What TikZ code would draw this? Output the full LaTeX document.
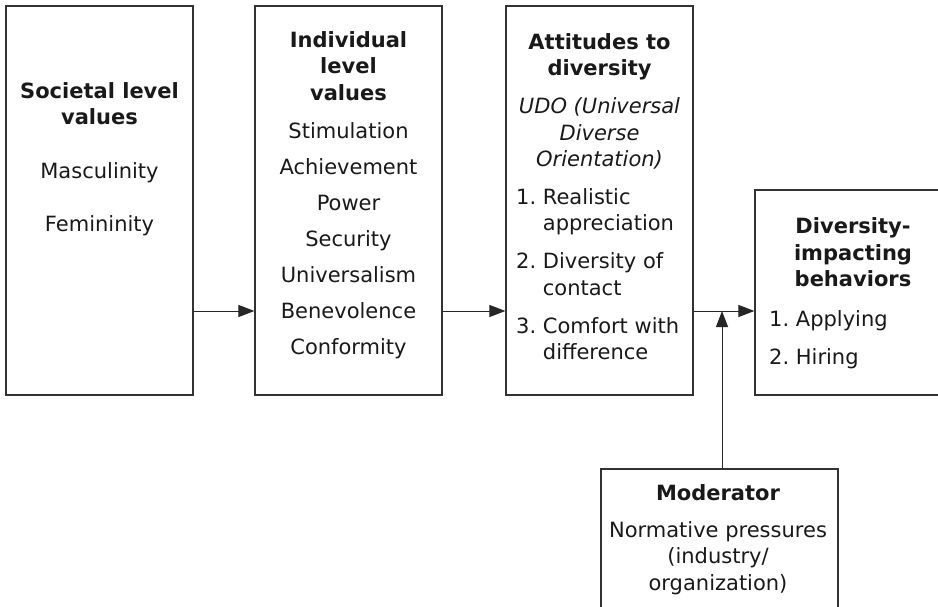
\documentclass[tikz,border=0pt]{standalone}
\usepackage{fontspec}
\setmainfont{DejaVu Sans}
\usetikzlibrary{arrows.meta}

\tikzset{
  box/.style={draw=black!80, line width=1.2pt, inner sep=0pt},
  txt/.style={anchor=north, inner sep=0pt, align=center, text=black!90},
  lst/.style={anchor=north west, inner sep=0pt, align=left, text=black!90},
  arr/.style={black!85, line width=1pt, -{Triangle[length=16pt,width=12pt]}}
}

\begin{document}
\begin{tikzpicture}[x=1pt, y=-1pt, font=\fontsize{21}{26.5}\selectfont]

    \useasboundingbox (0,0) rectangle (938,607);

    % draw boxes
    \node[box, minimum width=187pt, minimum height=389pt] (soc) at (99.5,200.5) {};
    \node[box, minimum width=187pt, minimum height=389pt] (ind) at (348.5,200.5) {};
    \node[box, minimum width=187pt, minimum height=389pt] (att) at (599.5,200.5) {};
    \node[box, minimum width=195pt, minimum height=205pt] (beh) at (852.5,292.5) {};
    \node[box, minimum width=237pt, minimum height=171pt] (mod) at (719.5,554.5) {};

    % add labels
    \node[txt] (soctxt) at (99.5,82) {\textbf{Societal level}\\\textbf{values}\\[27.5pt]Masculinity\\[26.5pt]Femininity};
    \node[txt] (indtxt) at (348.5,31) {\textbf{Individual}\\\textbf{level}\\\textbf{values}\\[11.5pt]Stimulation\\[9.5pt]Achievement\\[9.5pt]Power\\[9.5pt]Security\\[9.5pt]Universalism\\[9.5pt]Benevolence\\[9.5pt]Conformity};
    \node[txt] (atttxt) at (599.5,33) {\textbf{Attitudes to}\\\textbf{diversity}\\[11.5pt]\textit{UDO (Universal}\\\textit{Diverse}\\\textit{Orientation)}};
    \node[lst] (attlst) at (516,188) {1.\ Realistic\\\hphantom{1.\ }appreciation\\[11.5pt]2.\ Diversity of\\\hphantom{2.\ }contact\\[11.5pt]3.\ Comfort with\\\hphantom{3.\ }difference};
    \node[txt] (behtxt) at (853,217.5) {\textbf{Diversity-}\\\textbf{impacting}\\\textbf{behaviors}};
    \node[lst] (behlst) at (769,310) {1.\ Applying\\[11.5pt]2.\ Hiring};
    \node[txt] (modtxt) at (718,484) {\textbf{Moderator}\\[10.5pt]Normative pressures\\(industry/\\organization)};

    % draw arrows
    \coordinate (row) at (0,311);
    \coordinate (join) at (722,311);
    \draw[arr] (soc.east |- row) -- (ind.west |- row);
    \draw[arr] (ind.east |- row) -- (att.west |- row);
    \draw[arr] (att.east |- row) -- (beh.west |- row);
    \draw[arr] (mod.north -| join) -- (join);

\end{tikzpicture}
\end{document}
